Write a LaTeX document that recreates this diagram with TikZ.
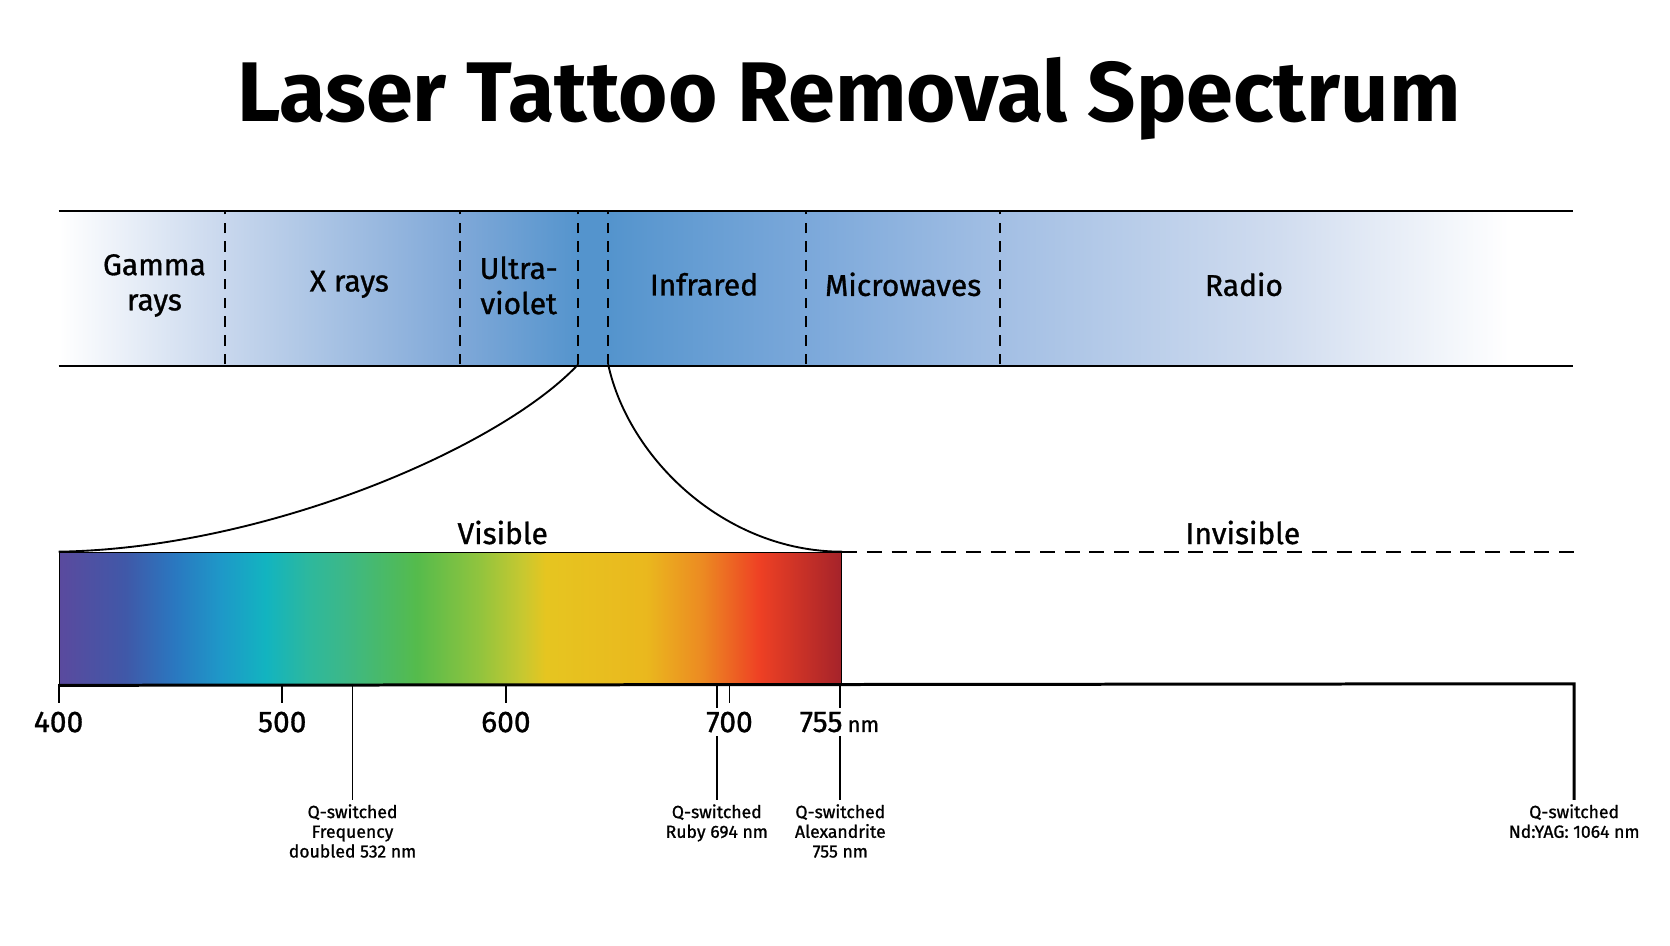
\documentclass[tikz,border=0pt]{standalone}
\usepackage{fontspec}
\setmainfont{Fira Sans}
\newfontfamily\medfont{Fira Sans}[FakeBold=1]
\usetikzlibrary{positioning}
\definecolor{bandA}{HTML}{C8D7ED}
\definecolor{bandB}{HTML}{7FA8D8}
\definecolor{bandC}{HTML}{5494CD}
\definecolor{bandD}{HTML}{7BA8DA}
\definecolor{bandE}{HTML}{A3BFE4}
\definecolor{bandF}{HTML}{D0DCEF}
\definecolor{visA}{HTML}{5A4A9E}
\definecolor{visB}{HTML}{4058A8}
\definecolor{visC}{HTML}{2A78C0}
\definecolor{visD}{HTML}{1E98C8}
\definecolor{visE}{HTML}{12B4C0}
\definecolor{visF}{HTML}{2EB89C}
\definecolor{visG}{HTML}{3CB888}
\definecolor{visH}{HTML}{55BB4C}
\definecolor{visI}{HTML}{90C43E}
\definecolor{visJ}{HTML}{C8C830}
\definecolor{visK}{HTML}{E6C520}
\definecolor{visL}{HTML}{EAB81E}
\definecolor{visM}{HTML}{EC8A22}
\definecolor{visN}{HTML}{EE4024}
\definecolor{visO}{HTML}{A5232A}
\pgfdeclarehorizontalshading{bandshade}{100bp}{color(0bp)=(white); color(25bp)=(white);
  color(30.5bp)=(bandA); color(38.25bp)=(bandB); color(42.2bp)=(bandC); color(43.15bp)=(bandC);
  color(49.7bp)=(bandD); color(56.15bp)=(bandE); color(65.3bp)=(bandF); color(72.9bp)=(white);
  color(100bp)=(white)}
\pgfdeclarehorizontalshading{visshade}{100bp}{color(0bp)=(visA); color(25bp)=(visA);
  color(29.2bp)=(visB); color(32.4bp)=(visC); color(35.3bp)=(visD); color(38.2bp)=(visE);
  color(41.05bp)=(visF); color(43.2bp)=(visG); color(47.85bp)=(visH); color(51.8bp)=(visI);
  color(54.65bp)=(visJ); color(56.1bp)=(visK); color(62.5bp)=(visL); color(66.1bp)=(visM);
  color(69.75bp)=(visN); color(75bp)=(visO); color(100bp)=(visO)}
\begin{document}
\begin{tikzpicture}[x=0.01cm, y=-0.01cm,
    region/.style = {font=\medfont\fontsize{8}{9.4}\selectfont, align=center},
    sep/.style = {dash pattern=on 2.8pt off 2.2pt, line width=0.45pt},
    edge/.style = {line width=0.7pt},
    curve/.style = {line width=0.5pt},
    tick/.style = {line width=0.5pt},
    num/.style = {font=\medfont\fontsize{8}{9}\selectfont, fill=white, inner sep=1pt},
    laser/.style = {font=\medfont\fontsize{4.7}{5.26}\selectfont, align=center, anchor=north, inner sep=1pt}]
  \useasboundingbox (0,0) rectangle (1568,888);
  \node (title) at (797,93) {\fontsize{22.6}{26}\selectfont\bfseries Laser Tattoo Removal Spectrum};

  \node (band) [shading=bandshade, minimum width=14.2cm, minimum height=1.44cm, inner sep=0, anchor=north west] at (55,198) {};
  \coordinate (s1) at (211,342);
  \coordinate (s2) at (432,342);
  \coordinate (s3) at (543,342);
  \coordinate (s4) at (571,342);
  \coordinate (s5) at (757,342);
  \coordinate (s6) at (939,342);
  \foreach \s in {s1,s2,s3,s4,s5,s6}
    \draw[sep] (\s) -- (\s |- band.north);
  \draw[edge] (band.north west) -- (band.north east);
  \draw[edge] (band.south west) -- (band.south east);

  \node[region] (gamma) at (145,268) {Gamma\\rays};
  \node[region] (xray) at (328,267) {X rays};
  \node[region] (uv) at (487,268) {Ultra-\\violet};
  \node[region] (ir) at (661,267) {Infrared};
  \node[region] (micro) at (848,267) {Microwaves};
  \node[region] (radio) at (1168,267) {Radio};

  \node (spec) [shading=visshade, draw, line width=0.4pt, minimum width=7.34cm, minimum height=1.24cm, inner sep=0, anchor=north west] at (55,518) {};
  \node[region] (visible) at (472,500) {Visible};
  \node[region] (invisible) at (1167,500) {Invisible};
  \coordinate (far) at (1478,518);
  \coordinate (axisend) at (1478,642);
  \draw[sep, dash pattern=on 4pt off 2.6pt] (spec.north east) -- (far);
  \draw[curve] (s3) .. controls (470,420) and (250,515) .. (spec.north west);
  \draw[curve] (s4) .. controls (590,430) and (680,518) .. (spec.north east);

  \coordinate (t400) at (55,642);
  \coordinate (t500) at (265,642);
  \coordinate (t532) at (331,642);
  \coordinate (t600) at (475,642);
  \coordinate (t694) at (673,642);
  \coordinate (t700) at (685,642);
  \coordinate (t755) at (789,642);
  \foreach \t in {t400,t500,t600,t700}
    \draw[tick] (\t) -- ++(0,18);

  \node[laser] (freq) at (331,751) {Q-switched\\Frequency\\doubled 532 nm};
  \node[laser] (ruby) at (673,751) {Q-switched\\Ruby 694 nm};
  \node[laser] (alex) at (789,751) {Q-switched\\Alexandrite\\755 nm};
  \node[laser] (yag) at (1478,751) {Q-switched\\Nd:YAG: 1064 nm};
  \draw[tick] (t532) -- (freq.north);
  \draw[tick] (t694) -- (ruby.north);
  \draw[tick] (t755) -- (alex.north);

  \node[num] (n400) at (55,678) {400};
  \node[num] (n500) at (265,678) {500};
  \node[num] (n600) at (475,678) {600};
  \node[num] (n700) at (685,678) {700};
  \node[num] (n755) at (771,678) {755};
  \node (nm) [font=\medfont\fontsize{5.8}{7}\selectfont, inner sep=0pt, anchor=base west] at (n755.base east) {nm};

  \draw[edge, line width=0.8pt] (spec.south west) -- (axisend) -- (yag.north);
\end{tikzpicture}
\end{document}
